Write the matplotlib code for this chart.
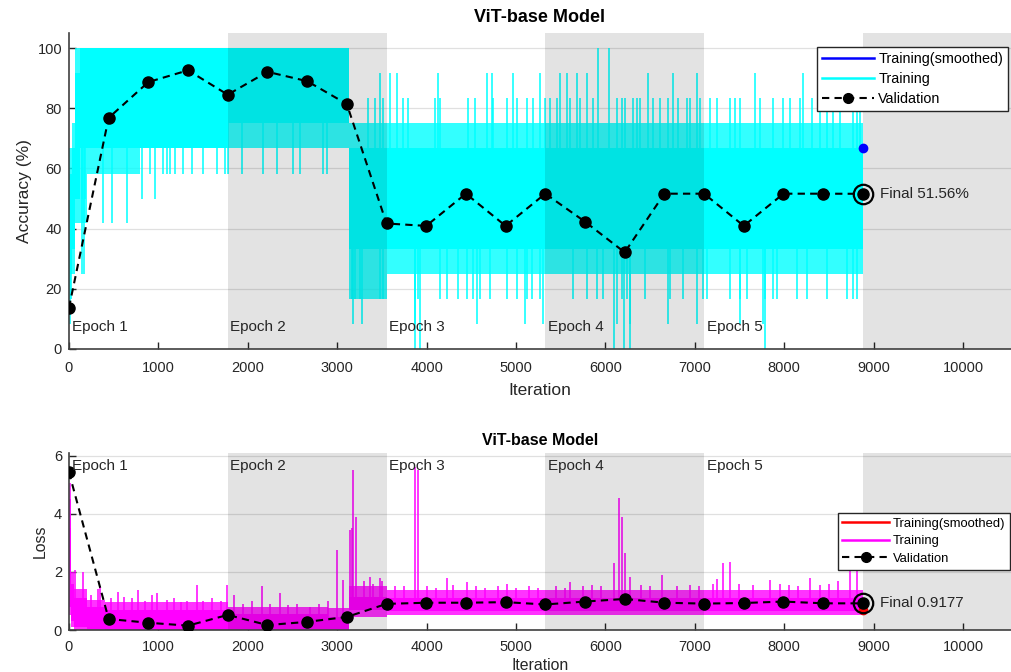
import numpy as np
import matplotlib
matplotlib.use('Agg')
import matplotlib.pyplot as plt
from matplotlib.lines import Line2D

plt.rcParams['font.family'] = ['Liberation Sans', 'DejaVu Sans']

# ---------------- data ----------------
title = 'ViT-base Model'
epoch_edges = [0, 1776, 3552, 5328, 7104, 8880]
epoch_labels = ['Epoch 1', 'Epoch 2', 'Epoch 3', 'Epoch 4', 'Epoch 5']
shaded_epochs = [1, 3]  # zero-based indices of grey epochs

val_iter = [0, 444, 888, 1332, 1776, 2220, 2664, 3108, 3552, 3996, 4440,
            4884, 5328, 5772, 6216, 6660, 7104, 7548, 7992, 8436, 8880]
val_acc = [13.7, 76.8, 88.7, 92.6, 84.5, 92.1, 89.0, 81.4, 41.7, 40.9, 51.6,
           40.9, 51.6, 42.3, 32.1, 51.6, 51.6, 40.9, 51.6, 51.6, 51.56]
val_loss = [5.44, 0.38, 0.25, 0.15, 0.52, 0.17, 0.28, 0.45, 0.90, 0.94, 0.94,
            0.96, 0.88, 0.98, 1.07, 0.94, 0.91, 0.93, 0.98, 0.92, 0.9177]
final_acc_text = 'Final 51.56%'
final_loss_text = 'Final 0.9177'
smoothed_final_acc = 66.67
smoothed_final_loss = 0.70

# training accuracy: dense band (step segments)
acc_core_x = [0, 30, 70, 120, 200, 1776, 3130, 8880]
acc_core_lo = [25.0, 33.3, 50.0, 66.7, 66.7, 75.0, 33.3, 33.3]
acc_core_hi = [58.3, 66.7, 91.7, 100.0, 100.0, 100.0, 66.7, 66.7]
acc_outer_x = [0, 30, 70, 200, 800, 1776, 3130, 3552, 8880]
acc_outer_lo = [16.7, 25.0, 41.7, 58.3, 66.7, 66.7, 16.7, 25.0, 25.0]
acc_outer_hi = [66.7, 75.0, 100.0, 100.0, 100.0, 100.0, 75.0, 75.0, 75.0]

# training accuracy: isolated excursions (iteration, value)
acc_spike_iter = [10, 150, 170, 142, 179, 384, 477, 645, 813, 962, 906, 1055, 1092,
                  1130, 1186, 1279, 1372, 1502, 1652, 1745, 1782, 1931, 2173, 2322,
                  2509, 2584, 2844, 2882,
                  5923, 6035,
                  3479, 3591, 3665, 4131, 4673, 4729, 4971, 5270, 5494, 5568, 5680,
                  5793, 6480, 6760, 7021, 7674, 8215, 8476, 8811, 8848,
                  3348, 3423, 3516, 3740, 3796, 4094, 4150, 4467, 4542, 4747, 4897,
                  5009, 5121, 5195, 5326, 5382, 5456, 5606, 5718, 5867, 6129, 6185,
                  6219, 6312, 6353, 6387, 6536, 6611, 6704, 6816, 6909, 6947, 7058,
                  7170, 7245, 7394, 7450, 7506, 7730, 7880, 7991, 8066, 8177, 8308,
                  8401, 8550, 8625, 8774,
                  3162, 3200, 3255, 3479, 3516, 3870, 3908, 4150, 4225, 4355, 4449,
                  4523, 4598, 4710, 4897, 5009, 5121, 5177, 5270, 5643, 5793, 5905,
                  5979, 6185, 6238, 6443, 6723, 6872, 7096, 7133, 7394, 7506, 7581,
                  7786, 7880, 7917, 8140, 8252, 8476, 8699, 8774, 8811,
                  3180, 3274, 3870, 4561, 5102, 5307, 6129, 6275, 6704, 7021, 7506, 7768,
                  3870, 3927, 6091, 6204, 6278, 7786]
acc_spike_val = [8.3, 25.0, 25.0, 50.0, 50.0, 41.7, 41.7, 41.7, 50.0, 50.0, 58.3, 58.3, 58.3,
                 58.3, 58.3, 58.3, 58.3, 58.3, 58.3, 58.3, 58.3, 58.3, 58.3, 58.3,
                 58.3, 58.3, 58.3, 58.3,
                 100.0, 100.0,
                 91.7, 91.7, 91.7, 91.7, 91.7, 91.7, 91.7, 91.7, 91.7, 91.7, 91.7,
                 91.7, 91.7, 91.7, 91.7, 91.7, 91.7, 91.7, 91.7, 91.7,
                 83.3, 83.3, 83.3, 83.3, 83.3, 83.3, 83.3, 83.3, 83.3, 83.3, 83.3,
                 83.3, 83.3, 83.3, 83.3, 83.3, 83.3, 83.3, 83.3, 83.3, 83.3, 83.3,
                 83.3, 83.3, 83.3, 83.3, 83.3, 83.3, 83.3, 83.3, 83.3, 83.3, 83.3,
                 83.3, 83.3, 83.3, 83.3, 83.3, 83.3, 83.3, 83.3, 83.3, 83.3, 83.3,
                 83.3, 83.3, 83.3, 83.3,
                 16.7, 16.7, 16.7, 16.7, 16.7, 16.7, 16.7, 16.7, 16.7, 16.7, 16.7,
                 16.7, 16.7, 16.7, 16.7, 16.7, 16.7, 16.7, 16.7, 16.7, 16.7, 16.7,
                 16.7, 16.7, 16.7, 16.7, 16.7, 16.7, 16.7, 16.7, 16.7, 16.7, 16.7,
                 16.7, 16.7, 16.7, 16.7, 16.7, 16.7, 16.7, 16.7, 16.7,
                 8.3, 8.3, 8.3, 8.3, 8.3, 8.3, 8.3, 8.3, 8.3, 8.3, 8.3, 8.3,
                 0.0, 0.0, 0.0, 0.0, 0.0, 0.0]

# training loss: dense band and spikes
loss_core_x = [0, 25, 60, 200, 400, 1776, 2900, 3130, 3552, 8880]
loss_core_lo = [0.8, 0.3, 0.1, 0.02, 0.0, 0.0, 0.0, 0.70, 0.65, 0.65]
loss_core_hi = [3.5, 1.6, 1.1, 0.80, 0.70, 0.55, 0.45, 1.15, 1.10, 1.10]
loss_outer_lo = [0.5, 0.1, 0.0, 0.0, 0.0, 0.0, 0.0, 0.45, 0.50, 0.50]
loss_outer_hi = [4.5, 2.0, 1.4, 1.05, 0.95, 0.80, 0.75, 1.50, 1.38, 1.38]
loss_spike_iter = [15, 67, 160, 347, 552, 776, 981, 1428, 1763, 2155, 2360, 2994,
                   3069, 3143, 3162, 3180, 3210, 3367, 3479, 3870, 3908, 4225, 4449,
                   4897, 5606, 6091, 6147, 6185, 6222, 6278, 6629, 7319, 7394, 7842,
                   8289, 8736, 8811,
                   250, 330, 470, 620, 700, 850, 930, 1100, 1180, 1250, 1320, 1500,
                   1600, 1700, 1850, 1950, 2050, 2250, 2450, 2550, 2700, 2800, 2900,
                   3300, 3400, 3500, 3650, 3750, 4000, 4100, 4300, 4550, 4650, 4800,
                   5000, 5150, 5250, 5450, 5550, 5750, 5850, 5950, 6400, 6500, 6800,
                   6950, 7050, 7200, 7250, 7500, 7650, 7950, 8050, 8150, 8400, 8500,
                   8600]
loss_spike_val = [5.07, 2.07, 2.00, 1.50, 1.32, 1.38, 1.26, 1.55, 1.55, 1.50, 1.26, 2.76,
                  1.72, 3.45, 3.50, 5.52, 3.90, 1.84, 1.78, 5.63, 5.52, 1.78, 1.66,
                  1.60, 1.66, 2.30, 4.54, 3.90, 2.64, 1.84, 1.90, 2.30, 2.36, 1.72,
                  1.78, 2.41, 2.18,
                  1.20, 1.40, 1.10, 1.15, 1.10, 1.00, 1.20, 1.05, 1.10, 0.95, 1.00, 1.00,
                  1.10, 1.00, 1.20, 0.90, 1.00, 0.90, 0.85, 0.90, 0.80, 0.90, 1.00,
                  1.70, 1.60, 1.70, 1.50, 1.50, 1.50, 1.45, 1.55, 1.50, 1.45, 1.50,
                  1.45, 1.50, 1.45, 1.50, 1.45, 1.50, 1.55, 1.50, 1.55, 1.50, 1.50,
                  1.55, 1.50, 1.60, 1.75, 1.60, 1.55, 1.60, 1.55, 1.50, 1.55, 1.60,
                  1.70]

x_max = 10537
x_ticks = [0, 1000, 2000, 3000, 4000, 5000, 6000, 7000, 8000, 9000, 10000]
acc_ticks = [0, 20, 40, 60, 80, 100]
loss_ticks = [0, 2, 4, 6]

# ---------------- drawing ----------------
CYAN = (0, 1, 1)
MAG = (1, 0, 1)
DARK = '#262626'

fig = plt.figure(figsize=(10.11, 6.72), dpi=100)
ax1 = fig.add_axes([0.0682, 0.4807, 0.9318, 0.4702])
ax2 = fig.add_axes([0.0682, 0.0625, 0.9318, 0.2634])


def step_arrays(x, *ys):
    return [list(y) + [y[-1]] if len(y) == len(x) - 1 else list(y) for y in ys]


def draw_panel(ax, core_x, core_lo, core_hi, out_x, out_lo, out_hi,
               sp_x, sp_v, color, val, ylim, yticks, ylabel, ylab_size,
               final_text, smooth_val, smooth_color, text_y, title_size, title_pad,
               tick_pad, xlab_pad, xlab_size, leg_anchor, leg_size, leg_space):
    ax.set_axisbelow(True)
    ax.grid(axis='y', color='#e0e0e0', lw=0.9, zorder=0)
    lo2, hi2 = step_arrays(out_x, out_lo, out_hi)
    ax.fill_between(out_x, lo2, hi2, step='post', color=color, alpha=0.8,
                    lw=0, zorder=1)
    lo1, hi1 = step_arrays(core_x, core_lo, core_hi)
    ax.fill_between(core_x, lo1, hi1, step='post', color=color, lw=0, zorder=1.1)
    sp_x = np.asarray(sp_x, float)
    sp_v = np.asarray(sp_v, float)
    hi_base = np.array([hi1[max(0, np.searchsorted(core_x, x, side='right') - 1)]
                        for x in sp_x])
    lo_base = np.array([lo1[max(0, np.searchsorted(core_x, x, side='right') - 1)]
                        for x in sp_x])
    up = sp_v > hi_base
    ax.vlines(sp_x[up], hi_base[up], sp_v[up], color=color, lw=1.1, zorder=1.1)
    dn = sp_v < lo_base
    ax.vlines(sp_x[dn], lo_base[dn], sp_v[dn], color=color, lw=1.1, zorder=1.1)

    # shaded epochs and the region after training
    for i in shaded_epochs:
        ax.axvspan(epoch_edges[i], epoch_edges[i + 1], color='k', alpha=0.11,
                   lw=0, zorder=2)
    ax.axvspan(epoch_edges[-1], x_max, color='k', alpha=0.11, lw=0, zorder=2)
    for i, lab in enumerate(epoch_labels):
        ax.text(epoch_edges[i] + 30, text_y, lab, fontsize=11, color=DARK,
                va='center', ha='left', zorder=5)

    # validation
    ax.plot(val_iter, val, color='k', ls='--', dashes=(3.5, 2.5), lw=1.5,
            marker='o', ms=8, zorder=4)
    ax.plot(val_iter[-1], val[-1], 'o', ms=14, mfc='none', mec='k', mew=1.6,
            zorder=4)
    ax.plot(epoch_edges[-1], smooth_val, 'o', ms=6, color=smooth_color, zorder=3)
    ax.annotate(final_text, (val_iter[-1], val[-1]), xytext=(12, 0),
                textcoords='offset points', va='center', ha='left',
                fontsize=11, color=DARK, zorder=5)

    ax.set_xlim(0, x_max)
    ax.set_ylim(*ylim)
    ax.set_xticks(x_ticks)
    ax.set_yticks(yticks)
    ax.tick_params(direction='in', length=5, width=1, colors=DARK,
                   labelsize=10.5)
    ax.tick_params(axis='x', pad=tick_pad)
    ax.tick_params(axis='y', pad=5)
    for s in ['top', 'right']:
        ax.spines[s].set_visible(False)
    for s in ['left', 'bottom']:
        ax.spines[s].set_color('#404040')
        ax.spines[s].set_linewidth(1.2)
    ax.set_xlabel('Iteration', fontsize=xlab_size, color=DARK, labelpad=xlab_pad)
    ax.set_ylabel(ylabel, fontsize=ylab_size, color=DARK, labelpad=4)
    ax.set_title(title, fontsize=title_size, fontweight='bold', pad=title_pad)

    handles = [Line2D([], [], color=smooth_color, lw=1.8),
               Line2D([], [], color=color, lw=1.8),
               Line2D([], [], color='k', ls='--', dashes=(3.5, 2.5), lw=1.5,
                      marker='o', ms=7)]
    leg = ax.legend(handles, ['Training(smoothed)', 'Training', 'Validation'],
                    loc='upper right', bbox_to_anchor=leg_anchor, borderaxespad=0,
                    fancybox=False, framealpha=1, edgecolor=DARK,
                    fontsize=leg_size, handlelength=3.6, handletextpad=0.3,
                    labelspacing=leg_space, borderpad=0.35, numpoints=1)
    leg.get_frame().set_linewidth(1.0)
    leg.set_zorder(6)


draw_panel(ax1, acc_core_x, acc_core_lo, acc_core_hi, acc_outer_x, acc_outer_lo,
           acc_outer_hi, acc_spike_iter, acc_spike_val, CYAN, val_acc, (0, 105),
           acc_ticks, 'Accuracy (%)', 12.5, final_acc_text, smoothed_final_acc,
           'blue', 7.3, 13, 8, 8.5, 6, 12.5, (0.997, 0.956), 10.4, 0.42)

draw_panel(ax2, loss_core_x, loss_core_lo, loss_core_hi, loss_core_x, loss_outer_lo,
           loss_outer_hi, loss_spike_iter, loss_spike_val, MAG, val_loss, (0, 6.1),
           loss_ticks, 'Loss', 11.4, final_loss_text, smoothed_final_loss,
           'red', 5.65, 11.5, 6, 7, 3, 11.4, (0.999, 0.661), 9.4, 0.42)

fig.savefig('out.png', dpi=100)
